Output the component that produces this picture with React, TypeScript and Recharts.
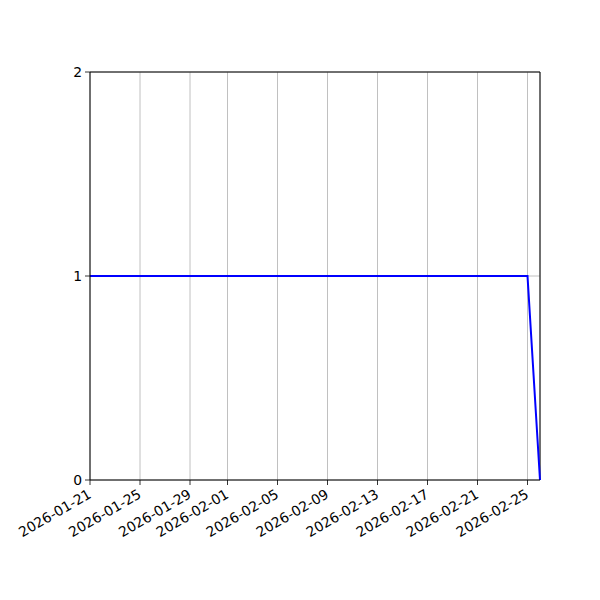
import React from "react";
import {
  LineChart,
  Line,
  XAxis,
  YAxis,
  CartesianGrid,
  ReferenceLine,
} from "recharts";

// ─── Data ─────────────────────────────────────────────────────────────────────

const dates = ["2026-01-21", "2026-02-25", "2026-02-26"];
const values = [1, 1, 0];
const xTickLabels = [
  "2026-01-21",
  "2026-01-25",
  "2026-01-29",
  "2026-02-01",
  "2026-02-05",
  "2026-02-09",
  "2026-02-13",
  "2026-02-17",
  "2026-02-21",
  "2026-02-25",
];
const yTicks = [0, 1, 2];

const toTime = (d: string) => Date.parse(d + "T00:00:00Z");
const data = dates.map((d, i) => ({ t: toTime(d), v: values[i] }));
const xTicks = xTickLabels.map(toTime);
const xDomain = [toTime(dates[0]), toTime(dates[dates.length - 1])];

const FONT = "DejaVu Sans, sans-serif";

const fmtDate = (t: number) => new Date(t).toISOString().slice(0, 10);

// ─── Tick ─────────────────────────────────────────────────────────────────────

function DateTick({ x, y, payload }: any) {
  const ax = x - 3;
  const ay = y + 1;
  return (
    <text
      x={ax}
      y={ay}
      dy="0.75em"
      textAnchor="end"
      fontFamily={FONT}
      fontSize={13.9}
      fill="#000"
      transform={`rotate(-30, ${ax}, ${ay})`}
    >
      {fmtDate(payload.value)}
    </text>
  );
}

// ─── Chart ────────────────────────────────────────────────────────────────────

export default function App() {
  return (
    <div style={{ position: "absolute", left: 0, top: 0, background: "#fff" }}>
      <LineChart
        width={600}
        height={600}
        data={data}
        margin={{ top: 72, right: 60, bottom: 0, left: 0 }}
      >
        <CartesianGrid stroke="#b0b0b0" strokeWidth={0.8} />
        <XAxis
          dataKey="t"
          type="number"
          domain={xDomain}
          ticks={xTicks}
          interval={0}
          height={120}
          tick={<DateTick />}
          tickSize={5}
          tickLine={{ stroke: "#000", strokeWidth: 0.8 }}
          axisLine={{ stroke: "#000", strokeWidth: 1 }}
        />
        <YAxis
          type="number"
          domain={[0, 2]}
          ticks={yTicks}
          width={90}
          tickSize={5}
          tickMargin={3}
          tick={{ fontFamily: FONT, fontSize: 13.9, fill: "#000" }}
          tickLine={{ stroke: "#000", strokeWidth: 0.8 }}
          axisLine={{ stroke: "#000", strokeWidth: 1 }}
        />
        <ReferenceLine y={2} stroke="#000" strokeWidth={1} />
        <ReferenceLine x={xDomain[1]} stroke="#000" strokeWidth={1} />
        <Line
          type="linear"
          dataKey="v"
          stroke="#0000ff"
          strokeWidth={2}
          dot={false}
          isAnimationActive={false}
        />
      </LineChart>
    </div>
  );
}
